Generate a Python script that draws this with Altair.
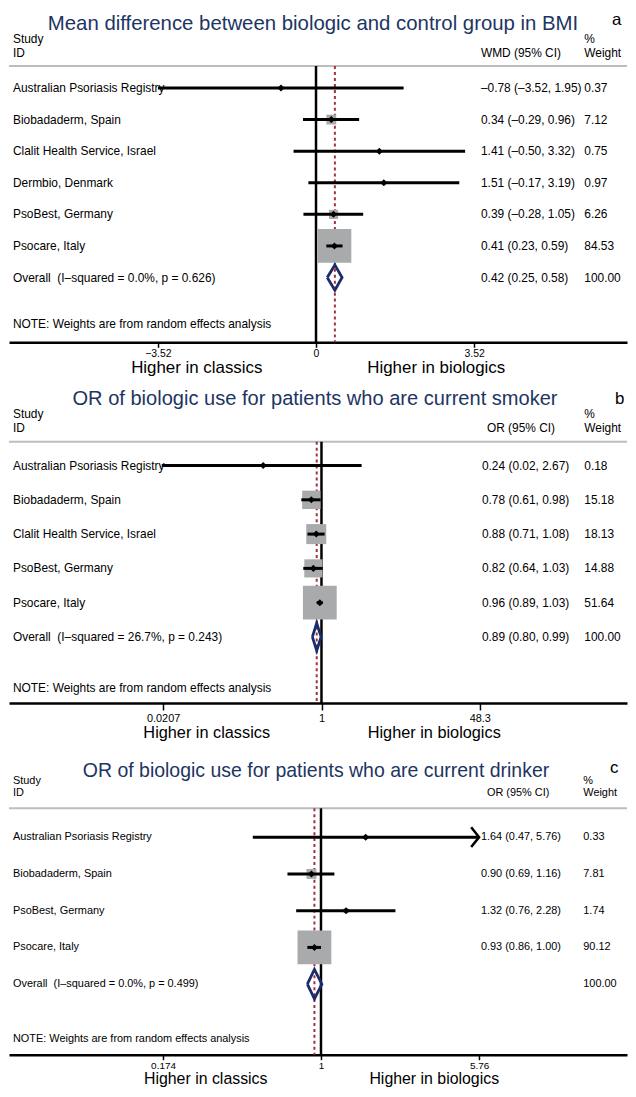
import math
import altair as alt
import pandas as pd

FONT = "Liberation Sans"
W = 622
NAVY_T = "#1d3562"
NAVY_D = "#1b2c6b"
RED = "#a3303a"
GRAY_BOX = "#a8aaab"
NOTE = "NOTE: Weights are from random effects analysis"

# ---------------- data ----------------
a_study = ["Australian Psoriasis Registry", "Biobadaderm, Spain", "Clalit Health Service, Israel",
           "Dermbio, Denmark", "PsoBest, Germany", "Psocare, Italy"]
a_est = [-0.78, 0.34, 1.41, 1.51, 0.39, 0.41]
a_lci = [-3.52, -0.29, -0.50, -0.17, -0.28, 0.23]
a_uci = [1.95, 0.96, 3.32, 3.19, 1.05, 0.59]
a_wt = [0.37, 7.12, 0.75, 0.97, 6.26, 84.53]
a_arrow = [False, False, False, False, False, False]
a_overall = [0.42, 0.25, 0.58]
a_ticks = [-3.52, 0, 3.52]

b_study = ["Australian Psoriasis Registry", "Biobadaderm, Spain", "Clalit Health Service, Israel",
           "PsoBest, Germany", "Psocare, Italy"]
b_est = [0.24, 0.78, 0.88, 0.82, 0.96]
b_lci = [0.02, 0.61, 0.71, 0.64, 0.89]
b_uci = [2.67, 0.98, 1.08, 1.03, 1.03]
b_wt = [0.18, 15.18, 18.13, 14.88, 51.64]
b_arrow = [False, False, False, False, False]
b_overall = [0.89, 0.80, 0.99]
b_ticks = [0.0207, 1, 48.3]

c_study = ["Australian Psoriasis Registry", "Biobadaderm, Spain", "PsoBest, Germany", "Psocare, Italy"]
c_est = [1.64, 0.90, 1.32, 0.93]
c_lci = [0.47, 0.69, 0.76, 0.86]
c_uci = [5.76, 1.16, 2.28, 1.00]
c_wt = [0.33, 7.81, 1.74, 90.12]
c_arrow = [True, False, False, False]
c_overall = [0.93, 0.86, 1.01]
c_ticks = [0.174, 1, 5.76]


def fmt(v):
    return f"{v:.2f}".replace("-", "\u2013")


def one():
    return alt.Chart(pd.DataFrame({"k": [0]}))


def panel(study, est, lci, uci, wt, arrow, overall, ticks, cfg):
    n = len(study)
    H = cfg["H"]
    sp = cfg["sp"]
    r0 = cfg["row0"]
    ys = alt.Scale(domain=[-r0 / sp, (H - r0) / sp], reverse=True, nice=False, zero=False)
    k = cfg["k"]
    if cfg["log"]:
        xs = alt.Scale(type="log", domain=[math.exp(-cfg["null_px"] / k), math.exp((W - cfg["null_px"]) / k)],
                       nice=False)
        null_v = 1
    else:
        xs = alt.Scale(type="linear", domain=[-cfg["null_px"] / k, (W - cfg["null_px"]) / k], nice=False, zero=False)
        null_v = 0
    ax = alt.Axis(values=ticks, format=".3~g", title=None, grid=False, domainColor="black", domainWidth=2.5,
                  tickColor="black", tickWidth=1.5, tickSize=cfg["ts"], labelPadding=cfg["lp"], labelFont=FONT,
                  labelFontSize=cfg["tfs"], labelColor="black", offset=cfg["axis"] - H, labelFlush=False,
                  labelOverlap=False, domainCap="butt")

    def X(f):
        return alt.X(f, type="quantitative", scale=xs, axis=ax)

    def Y(f):
        return alt.Y(f, type="quantitative", scale=ys, axis=None)

    df = pd.DataFrame({"row": list(range(n)), "study": study, "est": est, "lci": lci, "uci": uci,
                       "wt": wt, "arrow": arrow})
    fs = cfg["fs"]

    # text table
    left = list(study) + [cfg["overall_label"], NOTE]
    estlab = [f"{fmt(e)} ({fmt(l)}, {fmt(u)})" for e, l, u in zip(est, lci, uci)]
    estlab += [f"{fmt(overall[0])} ({fmt(overall[1])}, {fmt(overall[2])})" if cfg["show_overall"] else "", ""]
    wlab = [f"{w:.2f}" for w in wt] + ["100.00", ""]
    trow = list(range(n)) + [n, n + cfg["note_gap"]]
    tdf = pd.DataFrame({"row": trow, "left": left, "estlab": estlab, "wlab": wlab})

    # diamond outline for pooled estimate
    ddf = pd.DataFrame({"x": [overall[1], overall[0], overall[2], overall[0], overall[1]],
                        "y": [n, n - 0.4, n, n + 0.4, n], "o": [0, 1, 2, 3, 4]})
    odf = pd.DataFrame({"v": [overall[0]]})
    ndf = pd.DataFrame({"v": [null_v]})

    layers = []
    layers.append(one().mark_rule(color="#bdbdbd", strokeWidth=2).encode(
        x=alt.value(0), x2=alt.value(W), y=alt.value(cfg["hdr"])))
    base = alt.Chart(tdf)
    layers.append(base.mark_text(align="left", baseline="middle", font=FONT, fontSize=fs, color="black").encode(
        x=alt.value(4), y=Y("row"), text="left:N"))
    layers.append(base.mark_text(align="left", baseline="middle", font=FONT, fontSize=fs, color="black").encode(
        x=alt.value(cfg["est_x"]), y=Y("row"), text="estlab:N"))
    layers.append(base.mark_text(align="left", baseline="middle", font=FONT, fontSize=fs, color="black").encode(
        x=alt.value(cfg["w_x"]), y=Y("row"), text="wlab:N"))
    layers.append(alt.Chart(ndf).mark_rule(color="black", strokeWidth=2.5).encode(
        x=X("v"), y=alt.value(cfg["hdr"]), y2=alt.value(cfg["axis"])))
    layers.append(alt.Chart(odf).mark_rule(color=RED, strokeWidth=2, strokeDash=[3, 3]).encode(
        x=X("v"), y=alt.value(cfg["hdr"]), y2=alt.value(cfg["axis"])))
    layers.append(alt.Chart(df).mark_square(filled=True, color=GRAY_BOX, opacity=1).encode(
        x=X("est"), y=Y("row"),
        size=alt.Size("wt:Q", scale=alt.Scale(domain=[0, max(wt)], range=[0, 1156]), legend=None)))
    layers.append(alt.Chart(df).mark_rule(color="black", strokeWidth=3).encode(
        x=X("lci"), x2="uci:Q", y=Y("row")))
    layers.append(alt.Chart(df).mark_point(shape="diamond", filled=True, color="black", size=50, opacity=1).encode(
        x=X("est"), y=Y("row")))
    if any(arrow):
        layers.append(alt.Chart(df).transform_filter("datum.arrow").mark_point(
            shape="M-0.8,-1L0,0L-0.8,1", filled=False, color="black", strokeWidth=2.5, size=400, opacity=1).encode(
            x=X("uci"), y=Y("row")))
    layers.append(alt.Chart(ddf).mark_line(color=NAVY_D, strokeWidth=2.8, strokeJoin="miter").encode(
        x=X("x"), y=Y("y"), order="o:Q"))

    # headers and titles
    def txt(t, x, y, size, align="left", color="black", baseline="middle"):
        return one().mark_text(text=t, align=align, baseline=baseline, font=FONT, fontSize=size,
                               color=color).encode(x=alt.value(x), y=alt.value(y))

    layers.append(txt(cfg["title"], cfg["title_x"], cfg["title_y"], cfg["title_fs"], align="center", color=NAVY_T))
    layers.append(txt(cfg["letter"], cfg["letter_x"], cfg["letter_y"], 17, baseline="alphabetic"))
    layers.append(txt("Study", 4, cfg["h1"], fs))
    layers.append(txt("ID", 4, cfg["h2"], fs))
    layers.append(txt(cfg["est_head"], cfg["est_head_x"], cfg["h2"], fs))
    layers.append(txt("%", cfg["w_x"], cfg["h1"], fs))
    layers.append(txt("Weight", cfg["w_x"], cfg["h2"], fs))
    layers.append(txt("Higher in classics", cfg["hc_x"], cfg["hig_y"], cfg["hig_fs"], align="center"))
    layers.append(txt("Higher in biologics", cfg["hb_x"], cfg["hig_y"], cfg["hig_fs"], align="center"))

    return alt.layer(*layers).properties(width=W, height=H)


cfg_a = dict(H=372, sp=31.8, row0=76, log=False, k=45.2, null_px=309, ts=5, lp=1, tfs=10.5, axis=332, hdr=54,
             fs=12, est_x=475, w_x=579, est_head_x=475, note_gap=1.47, show_overall=True,
             overall_label="Overall\u00a0\u00a0(I\u2013squared = 0.0%, p = 0.626)",
             title="Mean difference between biologic and control group in BMI", title_x=306, title_y=12,
             title_fs=20.5, letter="a", letter_x=607, letter_y=13, h1=27, h2=40.5,
             est_head="WMD (95% CI)", hc_x=189, hb_x=430, hig_y=358, hig_fs=17)
cfg_b = dict(H=372, sp=34.5, row0=84, log=True, k=41.1, null_px=314.5, ts=7, lp=3, tfs=11, axis=323, hdr=60,
             fs=12, est_x=476, w_x=579, est_head_x=481, note_gap=1.48, show_overall=True,
             overall_label="Overall\u00a0\u00a0(I\u2013squared = 26.7%, p = 0.243)",
             title="OR of biologic use for patients who are current smoker", title_x=308, title_y=17,
             title_fs=20.2, letter="b", letter_x=610, letter_y=22, h1=32, h2=46,
             est_head="OR (95% CI)", hc_x=199, hb_x=428, hig_y=353, hig_fs=16.4)
cfg_c = dict(H=337, sp=37, row0=86, log=True, k=90.9, null_px=314, ts=5, lp=1, tfs=10, axis=305, hdr=57,
             fs=11, est_x=475, w_x=578, est_head_x=481, note_gap=1.49, show_overall=False,
             overall_label="Overall\u00a0\u00a0(I\u2013squared = 0.0%, p = 0.499)",
             title="OR of biologic use for patients who are current drinker", title_x=309, title_y=19,
             title_fs=19.6, letter="c", letter_x=605, letter_y=21, h1=30, h2=42,
             est_head="OR (95% CI)", hc_x=198, hb_x=428, hig_y=329, hig_fs=16)

pa = panel(a_study, a_est, a_lci, a_uci, a_wt, a_arrow, a_overall, a_ticks, cfg_a)
pb = panel(b_study, b_est, b_lci, b_uci, b_wt, b_arrow, b_overall, b_ticks, cfg_b)
pc = panel(c_study, c_est, c_lci, c_uci, c_wt, c_arrow, c_overall, c_ticks, cfg_c)

chart = alt.vconcat(pa, pb, pc, spacing=0).resolve_scale(
    x="independent", y="independent", size="independent"
).properties(padding=0, background="white").configure_view(stroke=None)

chart.save("out.html", embed_options={"renderer": "svg", "actions": False})
